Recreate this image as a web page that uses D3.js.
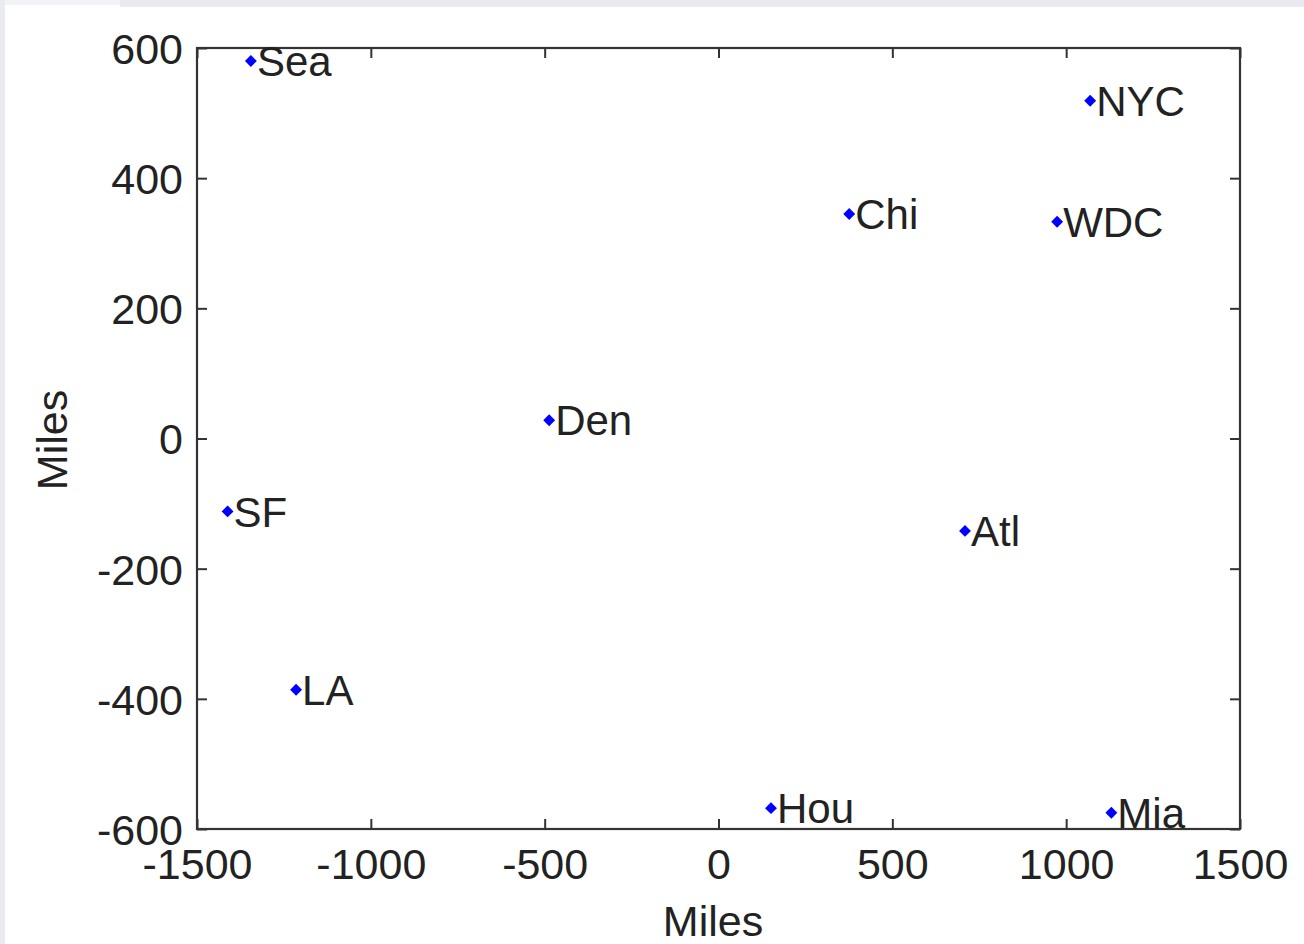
<!DOCTYPE html>
<html>
<head>
<meta charset="utf-8">
<script src="https://cdn.jsdelivr.net/npm/d3@7"></script>
<style>
  html, body { margin: 0; padding: 0; background: #ffffff; }
  svg { display: block; }
  text { font-family: "Liberation Sans", Arial, sans-serif; }
</style>
</head>
<body>
<svg id="chart" width="1304" height="944"></svg>
<script>
// ---- data ----
const cities = ["Sea", "NYC", "Chi", "WDC", "Den", "SF", "Atl", "LA", "Hou", "Mia"];
const xMiles = [-1345, 1069, 376, 974, -487, -1412, 709, -1215, 151, 1130];
const yMiles = [580, 519, 345, 333, 28, -112, -142, -386, -568, -575];
const xTicks = [-1500, -1000, -500, 0, 500, 1000, 1500];
const yTicks = [-600, -400, -200, 0, 200, 400, 600];
const xTitle = "Miles";
const yTitle = "Miles";

const svg = d3.select("#chart");
const W = 1304, H = 944;
const plot = { left: 197, top: 48, right: 1240, bottom: 829 };

// window-frame background bits
svg.append("rect").attr("x", 0).attr("y", 0).attr("width", W).attr("height", H).attr("fill", "#ffffff");
svg.append("rect").attr("x", 120).attr("y", 0).attr("width", W - 120).attr("height", 7).attr("fill", "#e8eaef");
svg.append("rect").attr("x", 0).attr("y", 0).attr("width", 120).attr("height", 5).attr("fill", "#f2f3f6");
svg.append("rect").attr("x", 0).attr("y", 0).attr("width", 5).attr("height", H).attr("fill", "#e9ebf0");

const x = d3.scaleLinear().domain([-1500, 1500]).range([plot.left, plot.right]);
const y = d3.scaleLinear().domain([-600, 600]).range([plot.bottom, plot.top]);

const axisColor = "#333333";
const textColor = "#222222";
const tickFont = 43;
const tickLen = 10;
const fmt = d => String(d); // plain hyphen-minus like the reference

// axes with inward ticks
const gx = svg.append("g").attr("transform", `translate(0,${plot.bottom})`)
  .call(d3.axisBottom(x).tickValues(xTicks).tickSize(-tickLen).tickFormat(fmt));
const gxTop = svg.append("g").attr("transform", `translate(0,${plot.top})`)
  .call(d3.axisTop(x).tickValues(xTicks).tickSize(-tickLen).tickFormat(""));
const gy = svg.append("g").attr("transform", `translate(${plot.left},0)`)
  .call(d3.axisLeft(y).tickValues(yTicks).tickSize(-tickLen).tickPadding(14).tickFormat(fmt));
const gyRight = svg.append("g").attr("transform", `translate(${plot.right},0)`)
  .call(d3.axisRight(y).tickValues(yTicks).tickSize(-tickLen).tickFormat(""));

[gx, gxTop, gy, gyRight].forEach(g => {
  g.select(".domain").remove();
  g.selectAll(".tick line").attr("stroke", axisColor).attr("stroke-width", 2);
  g.selectAll("text").attr("fill", textColor).style("font-size", tickFont + "px")
    .style("font-family", "'Liberation Sans', Arial, sans-serif");
});
gx.selectAll("text").attr("dy", null).attr("y", 50);
gy.selectAll("text").attr("dy", "0.36em");

// frame
svg.append("rect")
  .attr("x", plot.left).attr("y", plot.top)
  .attr("width", plot.right - plot.left).attr("height", plot.bottom - plot.top)
  .attr("fill", "none").attr("stroke", axisColor).attr("stroke-width", 2.2);

// axis titles
svg.append("text").attr("x", 713).attr("y", 936).attr("text-anchor", "middle")
  .attr("fill", textColor).style("font-size", tickFont + "px").text(xTitle);
svg.append("text").attr("transform", "translate(67,440) rotate(-90)").attr("text-anchor", "middle")
  .attr("fill", textColor).style("font-size", tickFont + "px").text(yTitle);

// points
const pts = cities.map((c, i) => ({ name: c, x: xMiles[i], y: yMiles[i] }));
const g = svg.append("g");
g.selectAll("path.pt").data(pts).join("path").attr("class", "pt")
  .attr("d", d3.symbol().type(d3.symbolDiamond2).size(90))
  .attr("transform", d => `translate(${x(d.x)},${y(d.y)})`)
  .attr("fill", "#0000ff");
g.selectAll("text.lbl").data(pts).join("text").attr("class", "lbl")
  .attr("x", d => x(d.x) + 6).attr("y", d => y(d.y)).attr("dy", "0.36em")
  .attr("fill", textColor).style("font-size", "42px").text(d => d.name);
</script>
</body>
</html>
